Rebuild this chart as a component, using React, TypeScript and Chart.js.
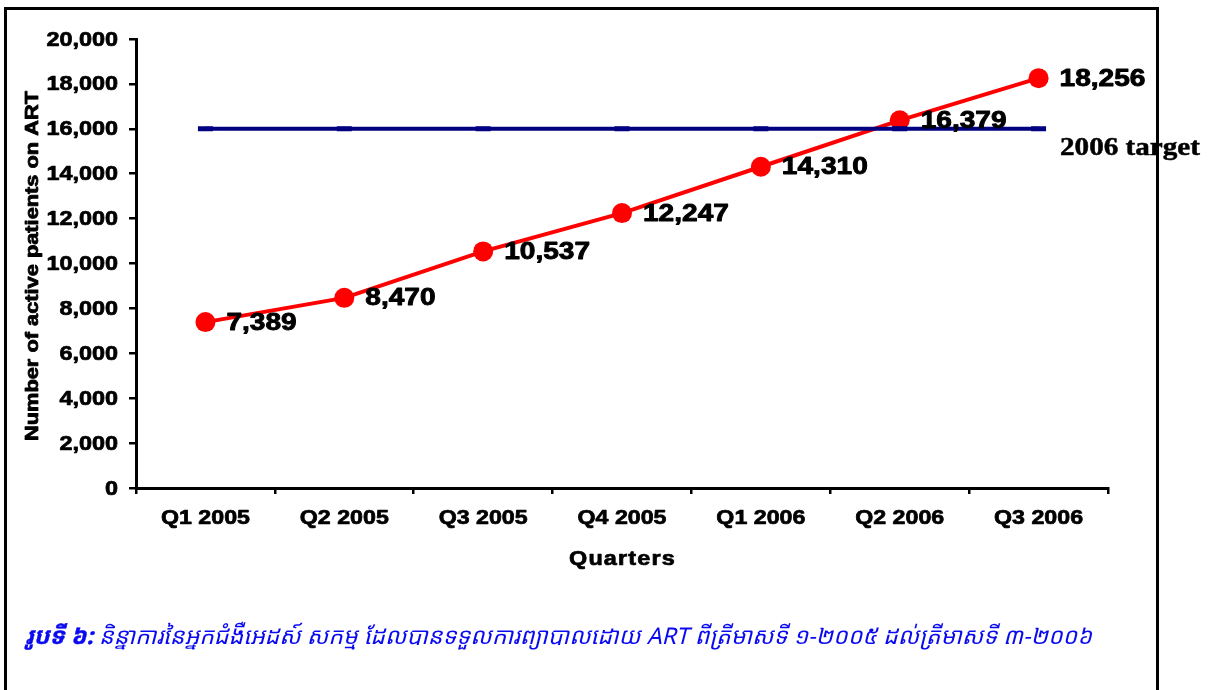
import React, { useEffect, useRef } from "react";
import { Chart, registerables } from "chart.js";

Chart.register(...registerables);

const categories = ["Q1 2005", "Q2 2005", "Q3 2005", "Q4 2005", "Q1 2006", "Q2 2006", "Q3 2006"];
const activePatients = [7389, 8470, 10537, 12247, 14310, 16379, 18256];
const target2006 = [16000, 16000, 16000, 16000, 16000, 16000, 16000];
const yTickValues = [0, 2000, 4000, 6000, 8000, 10000, 12000, 14000, 16000, 18000, 20000];
const yAxisTitle = "Number of active patients on ART";
const xAxisTitle = "Quarters";
const targetLabel = "2006 target";
const captionBold = "រូបទី ៦:";
const captionText = " និន្នាការនៃអ្នកជំងឺអេដស៍ សកម្ម ដែលបានទទួលការព្យាបាលដោយ ART ពីត្រីមាសទី ១-២០០៥ ដល់ត្រីមាសទី ៣-២០០៦";

const W = 1211;
const H = 690;
const SANS = "'Liberation Sans', Arial, sans-serif";
const SERIF = "'Liberation Serif', 'Times New Roman', serif";

function drawStretched(
  ctx: CanvasRenderingContext2D,
  text: string,
  x: number,
  y: number,
  font: string,
  sx: number,
  align: CanvasTextAlign,
  color = "#000",
  baseline: CanvasTextBaseline = "middle",
  bolden = 0.7
) {
  ctx.save();
  ctx.font = font;
  ctx.fillStyle = color;
  ctx.strokeStyle = color;
  ctx.lineJoin = "round";
  ctx.textAlign = align;
  ctx.textBaseline = baseline;
  ctx.translate(x, y);
  ctx.scale(sx, 1);
  ctx.fillText(text, 0, 0);
  if (bolden > 0) {
    ctx.lineWidth = bolden;
    ctx.strokeText(text, 0, 0);
  }
  ctx.restore();
}

function fitScale(ctx: CanvasRenderingContext2D, text: string, font: string, width: number) {
  ctx.save();
  ctx.font = font;
  const w = ctx.measureText(text).width;
  ctx.restore();
  return w > 0 ? width / w : 1;
}

const decorPlugin = {
  id: "decor",
  beforeDraw(chart: any) {
    const ctx = chart.ctx as CanvasRenderingContext2D;
    ctx.save();
    ctx.fillStyle = "#fff";
    ctx.fillRect(0, 0, W, H);
    ctx.restore();
  },
  afterDatasetsDraw(chart: any) {
    const ctx = chart.ctx as CanvasRenderingContext2D;
    const meta = chart.getDatasetMeta(1);
    const labelFont = `bold 24px ${SANS}`;
    meta.data.forEach((pt: any, i: number) => {
      const txt = activePatients[i].toLocaleString("en-US");
      drawStretched(ctx, txt, pt.x + 21, pt.y + 1, labelFont, 1.17, "left", "#000", "middle", 0.9);
    });
  },
  afterDraw(chart: any) {
    const ctx = chart.ctx as CanvasRenderingContext2D;
    const xs = chart.scales.x;
    const ys = chart.scales.y;
    const area = chart.chartArea;

    // y tick labels
    const tickFont = `bold 20px ${SANS}`;
    yTickValues.forEach((v) => {
      drawStretched(ctx, v.toLocaleString("en-US"), area.left - 18, ys.getPixelForValue(v) + 1, tickFont, 1.17, "right");
    });
    // x tick labels
    categories.forEach((c, i) => {
      drawStretched(ctx, c, xs.getPixelForValue(i), area.bottom + 30, tickFont, 1.16, "center");
    });

    // axis titles
    const xtFont = `bold 20px ${SANS}`;
    ctx.save();
    ctx.letterSpacing = "1px";
    const xsx = fitScale(ctx, xAxisTitle, xtFont, 107);
    ctx.restore();
    ctx.save();
    ctx.letterSpacing = "1px";
    drawStretched(ctx, xAxisTitle, (area.left + area.right) / 2 - 53, area.bottom + 71, xtFont, xsx, "left");
    ctx.restore();

    const ytFont = `bold 19px ${SANS}`;
    const ysx = fitScale(ctx, yAxisTitle, ytFont, 350);
    ctx.save();
    ctx.translate(33, 266);
    ctx.rotate(-Math.PI / 2);
    drawStretched(ctx, yAxisTitle, 0, 0, ytFont, ysx, "center", "#000", "middle", 0.8);
    ctx.restore();

    // target label
    const tFont = `bold 26px ${SERIF}`;
    const tsx = fitScale(ctx, targetLabel, tFont, 140);
    drawStretched(ctx, targetLabel, 1060, ys.getPixelForValue(16000) + 19, tFont, tsx, "left", "#000", "middle", 0.5);

    // frame
    ctx.save();
    ctx.fillStyle = "#000";
    ctx.fillRect(4, 7, 1155, 3);
    ctx.fillRect(4, 7, 3, H);
    ctx.fillRect(1156, 7, 3, H);
    ctx.restore();

    // caption
    const khmerFamily = "'Khmer OS', 'Noto Sans Khmer', 'Khmer OS System', 'Noto Sans', 'Liberation Sans', sans-serif";
    const boldFont = `italic bold 23px ${khmerFamily}`;
    const normFont = `italic 23px ${khmerFamily}`;
    const blue = "#0a0af0";
    ctx.save();
    ctx.font = boldFont;
    const bw = ctx.measureText(captionBold).width;
    ctx.restore();
    const bsx = 68 / bw;
    drawStretched(ctx, captionBold, 25, 637, boldFont, bsx, "left", blue, "middle", 0.4);
    const startX = 25 + 68;
    const csx = fitScale(ctx, captionText, normFont, 1092 - startX);
    drawStretched(ctx, captionText, startX, 637, normFont, csx, "left", blue, "middle", 0);
  },
};

export default function App() {
  const ref = useRef<HTMLCanvasElement>(null);
  useEffect(() => {
    const canvas = ref.current;
    if (!canvas) return;
    const chart = new Chart(canvas, {
      type: "line",
      data: {
        labels: categories,
        datasets: [
          {
            label: targetLabel,
            data: target2006,
            borderColor: "#000080",
            backgroundColor: "#000080",
            borderWidth: 4,
            pointStyle: "line",
            pointRadius: 7.5,
            pointBorderWidth: 5,
            pointBorderColor: "#000080",
            tension: 0,
          },
          {
            label: "Active patients on ART",
            data: activePatients,
            borderColor: "#ff0000",
            backgroundColor: "#ff0000",
            borderWidth: 4,
            pointStyle: "circle",
            pointRadius: 10,
            pointBorderWidth: 0,
            pointBackgroundColor: "#ff0000",
            tension: 0,
          },
        ],
      },
      options: {
        responsive: false,
        animation: false,
        devicePixelRatio: 1,
        layout: { padding: { left: 0, top: 39, right: 103, bottom: 0 } },
        plugins: {
          legend: { display: false },
          tooltip: { enabled: false },
          title: { display: false },
        },
        scales: {
          x: {
            type: "category",
            offset: true,
            grid: {
              offset: true,
              drawOnChartArea: false,
              drawTicks: true,
              tickLength: 6,
              color: "#000",
              lineWidth: 2.5,
            },
            border: { display: true, color: "#000", width: 3 },
            ticks: { display: false },
            afterFit: (s: any) => {
              s.height = H - 488;
            },
          },
          y: {
            type: "linear",
            min: 0,
            max: 20000,
            grid: {
              drawOnChartArea: false,
              drawTicks: true,
              tickLength: 7,
              color: "#000",
              lineWidth: 2.5,
            },
            border: { display: true, color: "#000", width: 3 },
            ticks: { display: false, stepSize: 2000 },
            afterFit: (s: any) => {
              s.width = 136;
            },
          },
        },
      },
      plugins: [decorPlugin],
    });
    return () => chart.destroy();
  }, []);

  return (
    <div style={{ position: "absolute", left: 0, top: 0, width: W, height: H, background: "#fff" }}>
      <canvas ref={ref} width={W} height={H} style={{ display: "block", width: W, height: H }} />
    </div>
  );
}
